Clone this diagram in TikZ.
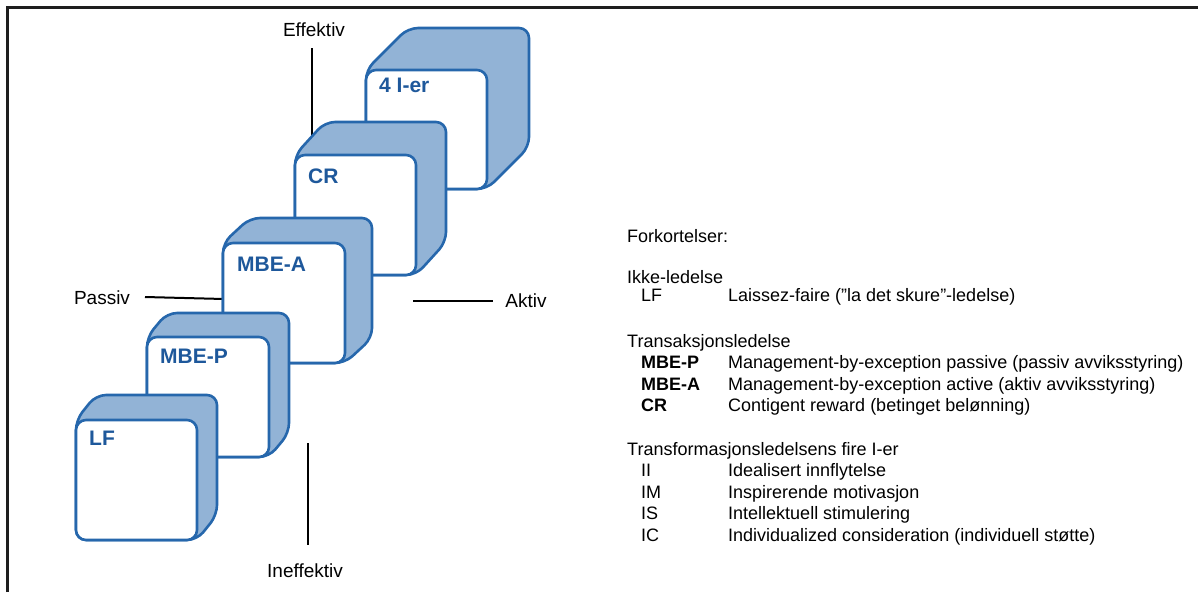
\documentclass[tikz,border=0pt]{standalone}
\usepackage{fontspec}
\setmainfont{Liberation Sans}
\definecolor{cubeline}{RGB}{38,103,172}
\definecolor{cubefill}{RGB}{146,179,214}
\definecolor{cubetext}{RGB}{30,88,155}
\definecolor{frameline}{RGB}{30,30,30}
\tikzset{
  cubeside/.style={fill=cubefill, draw=cubeline, line width=2.6pt, rounded corners=10pt, line join=round},
  cubefront/.style={fill=white, draw=cubeline, line width=2.6pt, rounded corners=10pt},
  cubelabel/.style={anchor=base west, inner sep=0pt, text=cubetext, font=\fontsize{21}{24}\selectfont\bfseries},
  axline/.style={draw=black, line width=2pt},
  axlabel/.style={anchor=base, inner sep=0pt, font=\fontsize{19}{22}\selectfont},
  head/.style={anchor=base west, inner sep=0pt, font=\fontsize{18}{21}\selectfont},
  abbr/.style={anchor=base west, inner sep=0pt, font=\fontsize{18}{21}\selectfont},
  abbrb/.style={anchor=base west, inner sep=0pt, font=\fontsize{18}{21}\selectfont\bfseries},
  desc/.style={anchor=base west, inner sep=0pt, font=\fontsize{18}{21}\selectfont},
  frame/.style={draw=frameline, line width=2.5pt}
}
% x0, y0, x1, y1, dx, dy
\newcommand\drawcube[6]{%
  \filldraw[cubeside] (#1,#2) -- ({#1+#5},{#2-#6}) -- ({#3+#5},{#2-#6}) -- ({#3+#5},{#4-#6}) -- (#3,#4) -- (#1,#4) -- cycle;
  \filldraw[cubefront] (#1,#2) rectangle (#3,#4);
}
\begin{document}
\begin{tikzpicture}[x=1pt,y=-1pt]
\useasboundingbox (0,0) rectangle (1198,592);
% frame (top and left)
\coordinate (fbl) at (7.5,592);
\coordinate (ftl) at (7.5,7.5);
\coordinate (ftr) at (1198,7.5);
\draw[frame] (fbl) -- (ftl) -- (ftr);

% axes (behind the cubes)
\node[axlabel] (eff) at (314,36) {Effektiv};
\coordinate (effa) at (312,48);
\coordinate (effb) at (312,155);
\draw[axline] (effa) -- (effb);

\node[axlabel] (ineff) at (305,577) {Ineffektiv};
\coordinate (inea) at (307.5,443);
\coordinate (ineb) at (307.5,545);
\draw[axline] (inea) -- (ineb);

\node[axlabel] (pas) at (102,304) {Passiv};
\coordinate (pasa) at (145,297);
\coordinate (pasb) at (232,299.2);
\draw[axline] (pasa) -- (pasb);

\node[axlabel] (akt) at (526,307) {Aktiv};
\coordinate (akta) at (413,301);
\coordinate (aktb) at (493,301);
\draw[axline] (akta) -- (aktb);

% cubes, back to front
\drawcube{366}{70}{487}{189}{42}{42}
\node[cubelabel] (c4) at (379,92) {4 I-er};
\drawcube{295}{155}{416}{275}{30}{33}
\node[cubelabel] (ccr) at (308,183) {CR};
\drawcube{223}{243}{345}{363}{27}{25}
\node[cubelabel] (cmbea) at (237,271) {MBE-A};
\drawcube{147}{337}{269}{457}{20}{24}
\node[cubelabel] (cmbep) at (160,363) {MBE-P};
\drawcube{76}{420}{197}{540}{20}{25}
\node[cubelabel] (clf) at (89,445) {LF};

% legend
\node[head] (hforkort) at (627,242) {Forkortelser:};
\node[head] (hikke) at (627,283) {Ikke-ledelse};
\node[abbr] (alf) at (641,301) {LF};
\node[desc] (dlf) at (728,301) {Laissez-faire ("la det skure"-ledelse)};
\node[head] (htrans) at (627,347) {Transaksjonsledelse};
\node[abbrb] (ambep) at (641,368.5) {MBE-P};
\node[desc] (dmbep) at (728,368.5) {Management-by-exception passive (passiv avviksstyring)};
\node[abbrb] (ambea) at (641,390) {MBE-A};
\node[desc] (dmbea) at (728,390) {Management-by-exception active (aktiv avviksstyring)};
\node[abbrb] (acr) at (641,411.5) {CR};
\node[desc] (dcr) at (728,411.5) {Contigent reward (betinget belønning)};
\node[head] (htf) at (627,455) {Transformasjonsledelsens fire I-er};
\node[abbr] (aii) at (641,476.5) {II};
\node[desc] (dii) at (728,476.5) {Idealisert innflytelse};
\node[abbr] (aim) at (641,498) {IM};
\node[desc] (dim) at (728,498) {Inspirerende motivasjon};
\node[abbr] (ais) at (641,519.5) {IS};
\node[desc] (dis) at (728,519.5) {Intellektuell stimulering};
\node[abbr] (aic) at (641,541) {IC};
\node[desc] (dic) at (728,541) {Individualized consideration (individuell støtte)};
\end{tikzpicture}
\end{document}
